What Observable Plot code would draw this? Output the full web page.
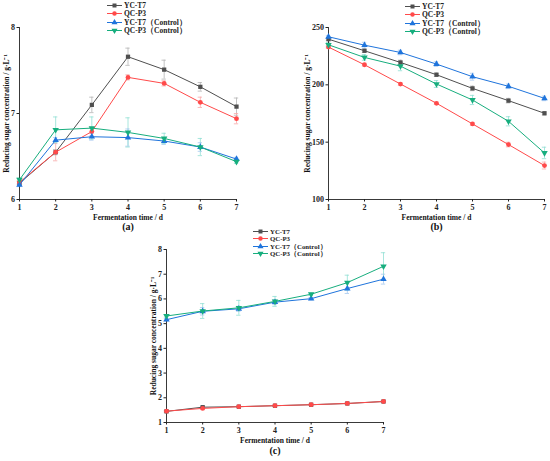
<!DOCTYPE html>
<html><head><meta charset="utf-8">
<script src="https://cdn.jsdelivr.net/npm/d3@7"></script>
<script src="https://cdn.jsdelivr.net/npm/@observablehq/plot@0.6"></script>
<style>
body{margin:0;background:#fff;}
#root{position:relative;width:550px;height:461px;overflow:hidden;font-family:"Liberation Serif",serif;background:#fff;}
.panel{position:absolute;}
.leg{position:absolute;font-weight:bold;color:#222;white-space:nowrap;}
.row{position:absolute;left:0;display:flex;align-items:center;height:7px;line-height:7px;}
.row svg{margin-right:2px;}
</style>
</head><body><div id="root"></div>
<script>
const days = [1, 2, 3, 4, 5, 6, 7];
const seriesNames = ["YC-T7", "QC-P3", "YC-T7（Control）", "QC-P3（Control）"];
const colors = ["#4f4f4f", "#ff4a4a", "#1f74dc", "#17ae7e"];
const errColors = ["#b4b4b4", "#f8aaaa", "#a6c8f0", "#92e0d4"];
const symbols = ["square", "circle", "triangle", "triangle"];
const rotations = [0, 0, 0, 180];

// Panel (a)
const aYC = [6.19, 6.55, 7.10, 7.66, 7.51, 7.31, 7.08];
const aQC = [6.20, 6.55, 6.79, 7.42, 7.35, 7.13, 6.94];
const aYCc = [6.17, 6.69, 6.73, 6.72, 6.68, 6.61, 6.47];
const aQCc = [6.23, 6.81, 6.83, 6.78, 6.71, 6.61, 6.44];
const aErrYC = [0.02, 0.03, 0.09, 0.10, 0.11, 0.05, 0.10];
const aErrQC = [0.02, 0.10, 0.05, 0.03, 0.03, 0.06, 0.06];
const aErrYCc = [0.02, 0.03, 0.04, 0.10, 0.04, 0.05, 0.02];
const aErrQCc = [0.02, 0.15, 0.13, 0.17, 0.06, 0.10, 0.02];
const aTicks = [6, 7, 8];

// Panel (b)
const bYC = [239.8, 229.7, 219.5, 208.8, 196.9, 186.2, 175.2];
const bQC = [232.9, 217.5, 200.7, 183.9, 165.9, 147.9, 129.6];
const bYCc = [241.9, 234.6, 228.2, 218.1, 207.1, 198.7, 188.2];
const bQCc = [234.9, 223.9, 216.3, 200.7, 186.8, 168.2, 140.6];
const bErrYC = [1, 1.5, 2, 1.5, 2, 2, 1.5];
const bErrQC = [1, 1, 1, 1, 1, 2, 3];
const bErrYCc = [1, 2.5, 2, 2, 3, 2, 2];
const bErrQCc = [2, 2.5, 4, 3, 4, 4, 5];
const bTicks = [100, 150, 200, 250];

// Panel (c)
const cYC = [1.45, 1.62, 1.64, 1.68, 1.72, 1.77, 1.85];
const cQC = [1.46, 1.57, 1.64, 1.68, 1.72, 1.77, 1.85];
const cYCc = [5.16, 5.50, 5.60, 5.87, 6.01, 6.42, 6.80];
const cQCc = [5.31, 5.51, 5.64, 5.90, 6.19, 6.66, 7.32];
const cErrYC = [0.03, 0.03, 0.03, 0.03, 0.03, 0.03, 0.03];
const cErrQC = [0.03, 0.03, 0.03, 0.03, 0.03, 0.04, 0.04];
const cErrYCc = [0.05, 0.15, 0.10, 0.10, 0.05, 0.20, 0.20];
const cErrQCc = [0.05, 0.30, 0.30, 0.20, 0.05, 0.30, 0.55];
const cTicks = [1, 2, 3, 4, 5, 6, 7, 8];

const yLabel = "Reducing sugar concentration / g·L⁻¹";
const xLabel = "Fermentation time / d";

function rows(vals, errs) {
  const out = [];
  vals.forEach((arr, s) => arr.forEach((v, i) => out.push({s, x: days[i], y: v, e: errs[s][i]})));
  return out;
}

function panel(cfg) {
  const data = rows(cfg.vals, cfg.errs);
  const [y0, y1] = cfg.ydomain;
  const marks = [
    Plot.ruleX(data, {x: "x", y1: d => d.y - d.e, y2: d => d.y + d.e, stroke: d => errColors[d.s], strokeWidth: 0.8}),
    Plot.ruleY(data, {x1: d => d.x - 0.06, x2: d => d.x + 0.06, y: d => d.y + d.e, stroke: d => errColors[d.s], strokeWidth: 0.8}),
    Plot.ruleY(data, {x1: d => d.x - 0.06, x2: d => d.x + 0.06, y: d => d.y - d.e, stroke: d => errColors[d.s], strokeWidth: 0.8}),
    Plot.ruleX([1], {stroke: "#222", strokeWidth: 0.9}),
    Plot.ruleY([y0], {stroke: "#222", strokeWidth: 0.9}),
    Plot.axisX({ticks: days, tickFormat: d3.format("d"), tickSize: 2.5, tickPadding: 2, label: null, fontSize: 8, fontWeight: "bold", stroke: "#222"}),
    Plot.axisY({ticks: cfg.ticks, tickFormat: d3.format("d"), tickSize: 2.5, tickPadding: 2, label: null, fontSize: 8, fontWeight: "bold", stroke: "#222"})
  ];
  for (let s = 0; s < 4; s++) {
    const sd = data.filter(d => d.s === s);
    marks.push(Plot.line(sd, {x: "x", y: "y", stroke: colors[s], strokeWidth: 1}));
    marks.push(Plot.dot(sd, {x: "x", y: "y", symbol: symbols[s], fill: colors[s], r: 2.4, rotate: rotations[s]}));
  }
  marks.push(Plot.text([xLabel], {frameAnchor: "bottom", dy: 20, fontSize: 7.5, fontWeight: "bold", fill: "#111"}));
  marks.push(Plot.text([cfg.tag], {frameAnchor: "bottom", dy: cfg.tagDy, fontSize: 10, fontWeight: "bold", fill: "#111"}));
  marks.push(Plot.text([yLabel], {frameAnchor: "left", textAnchor: "middle", lineAnchor: "middle", dx: cfg.ydx, rotate: -90, fontSize: 7.5, fontWeight: "bold", fill: "#111"}));
  const svg = Plot.plot({
    width: cfg.w, height: cfg.h,
    marginLeft: cfg.ml, marginRight: cfg.mr, marginTop: cfg.mt, marginBottom: cfg.mb,
    x: {domain: [1, 7]},
    y: {domain: cfg.ydomain},
    style: {fontFamily: "Liberation Serif, serif", background: "transparent", color: "#222", overflow: "visible"},
    marks
  });
  const wrap = document.createElement("div");
  wrap.className = "panel";
  wrap.style.left = cfg.left + "px";
  wrap.style.top = cfg.top + "px";
  wrap.appendChild(svg);
  document.getElementById("root").appendChild(wrap);
}

function legend(left, top, rowYs, fontSize) {
  const box = document.createElement("div");
  box.className = "leg";
  box.style.left = left + "px";
  box.style.top = top + "px";
  box.style.fontSize = fontSize + "px";
  seriesNames.forEach((name, s) => {
    const row = document.createElement("div");
    row.className = "row";
    row.style.top = (rowYs[s] - 3.5) + "px";
    const sym = d3.symbol(
      [d3.symbolSquare, d3.symbolCircle, d3.symbolTriangle, d3.symbolTriangle][s], 16)();
    row.innerHTML = `<svg width="15" height="7"><line x1="0" x2="15" y1="3.5" y2="3.5" stroke="${colors[s]}" stroke-width="1"/>` +
      `<path d="${sym}" transform="translate(7.5,3.5) rotate(${rotations[s]})" fill="${colors[s]}"/></svg><span>${name}</span>`;
    box.appendChild(row);
  });
  document.getElementById("root").appendChild(box);
}

panel({vals: [aYC, aQC, aYCc, aQCc], errs: [aErrYC, aErrQC, aErrYCc, aErrQCc], ydomain: [6, 8], ticks: aTicks,
  left: 0, top: 0, w: 275, h: 235, ml: 19, mr: 39, mt: 27, mb: 36, tag: "(a)", tagDy: 30, ydx: -13});
panel({vals: [bYC, bQC, bYCc, bQCc], errs: [bErrYC, bErrQC, bErrYCc, bErrQCc], ydomain: [100, 250], ticks: bTicks,
  left: 275, top: 0, w: 275, h: 235, ml: 53, mr: 6, mt: 27, mb: 36, tag: "(b)", tagDy: 30, ydx: -21});
panel({vals: [cYC, cQC, cYCc, cQCc], errs: [cErrYC, cErrQC, cErrYCc, cErrQCc], ydomain: [1, 8], ticks: cTicks,
  left: 130, top: 225, w: 290, h: 236, ml: 36, mr: 37, mt: 24, mb: 39, tag: "(c)", tagDy: 31, ydx: -13});

legend(107, 0, [5.3, 13.5, 22, 30.5], 7.5);
legend(405, 0, [6, 14.5, 23, 31.5], 7.5);
legend(253, 225, [6, 13.5, 21, 28.5], 6.8);
</script></body></html>
